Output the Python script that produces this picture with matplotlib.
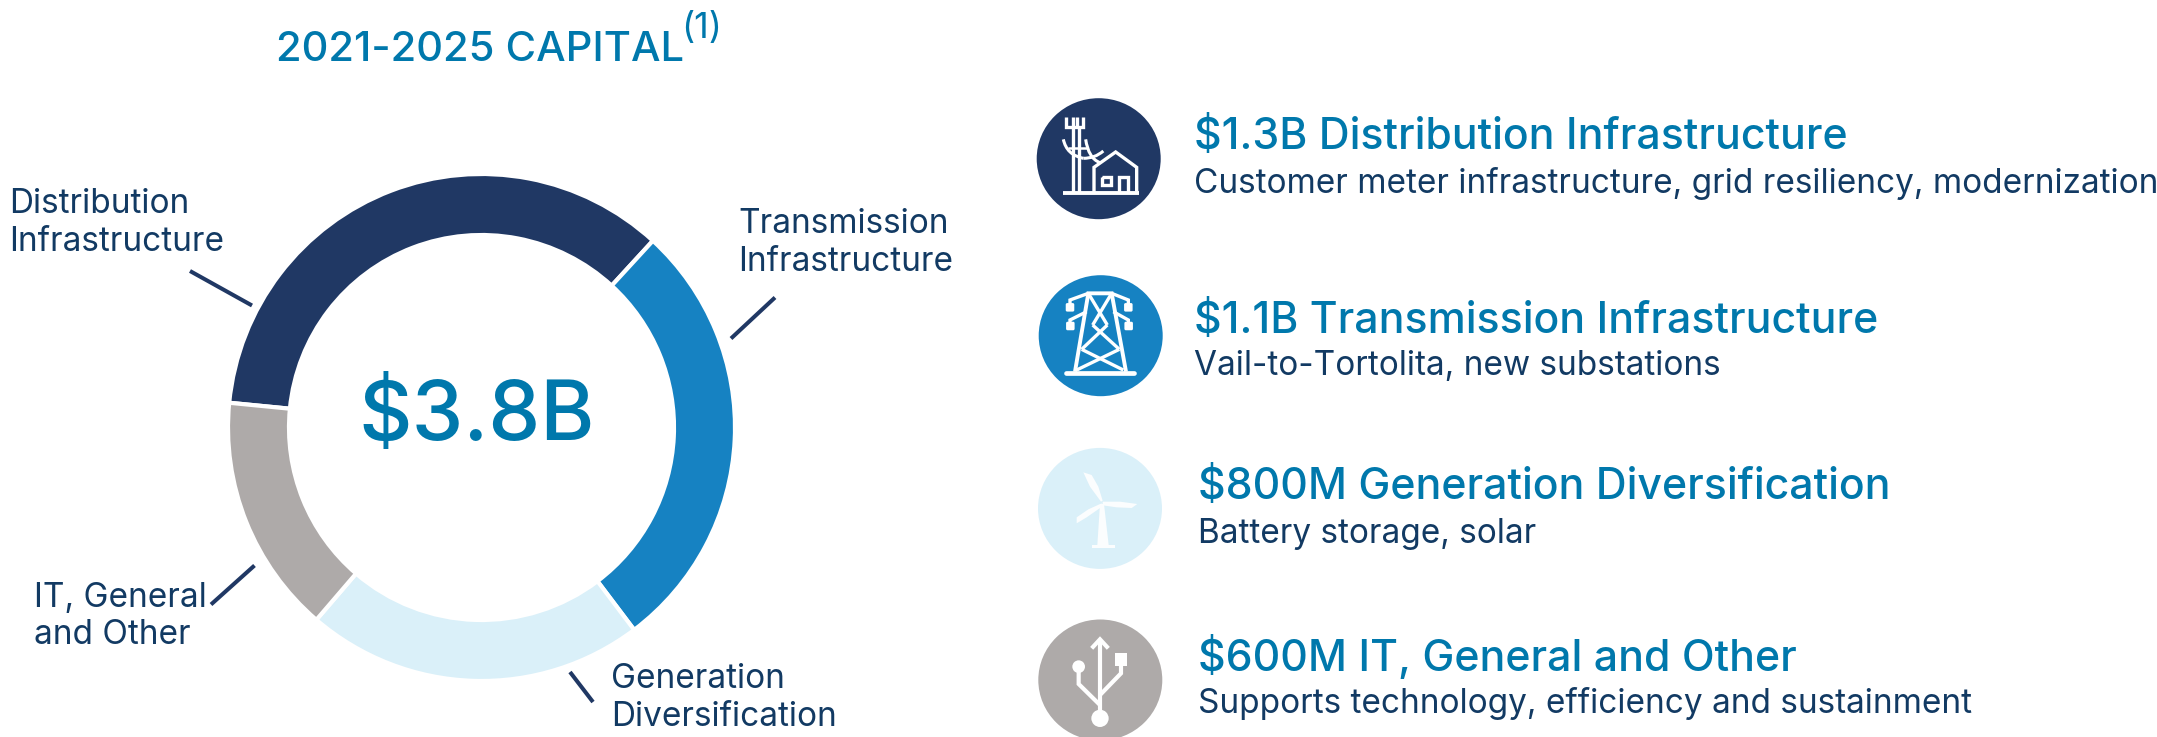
import matplotlib
matplotlib.use("Agg")
import matplotlib.pyplot as plt
from matplotlib.patches import Ellipse, Circle, Polygon, Rectangle, FancyBboxPatch, PathPatch
from matplotlib.path import Path

W, H = 2157, 737
FONT = "Inter"
categories = ["Distribution\nInfrastructure", "Transmission\nInfrastructure",
              "Generation\nDiversification", "IT, General\nand Other"]
values = [1.34, 1.06, 0.82, 0.58]
colors = ["#203864", "#1682C2", "#DAF0F9", "#AEAAA9"]
total_label = "$3.8B"
title = "2021-2025 CAPITAL"
headings = ["$1.3B Distribution Infrastructure", "$1.1B Transmission Infrastructure",
            "$800M Generation Diversification", "$600M IT, General and Other"]
details = ["Customer meter infrastructure, grid resiliency, modernization",
           "Vail-to-Tortolita, new substations", "Battery storage, solar",
           "Supports technology, efficiency and sustainment"]
TEAL = "#0078AC"
DARK = "#123A63"
NAVY = "#203864"

fig = plt.figure(figsize=(W / 100, H / 100), dpi=100)
ax = fig.add_axes([0, 0, 1, 1])

def Y(py):
    return H - py

ax.pie(values, colors=colors, startangle=174.4, counterclock=False, center=(481.5, Y(427.5)),
       radius=253.5, frame=True,
       wedgeprops=dict(width=61, edgecolor="white", linewidth=3))
ax.set_xlim(0, W)
ax.set_ylim(0, H)
ax.set_aspect("equal")
ax.axis("off")

def txt(x, y, s, size, color, ha="left", weight="normal"):
    ax.text(x, Y(y), s, fontsize=size, color=color, ha=ha, va="baseline",
            family=FONT, fontweight=weight)

txt(276, 61, title, 30, TEAL, weight="medium")
txt(681, 38, "(1)", 26, TEAL)
txt(477, 440, total_label, 59.5, TEAL, ha="center", weight="medium")

label_pos = [(9, 213, 250.5), (738.5, 232.5, 270.5), (611, 687.5, 725.5), (34, 607, 644.5)]
for cat, (x, y1, y2) in zip(categories, label_pos):
    a, b = cat.split("\n")
    txt(x, y1, a, 24, DARK)
    txt(x, y2, b, 24, DARK)

leaders = [((190, 271), (252, 305.5)), ((775, 297.5), (731, 338.5)),
           ((570, 672), (593, 702)), ((254.5, 565.5), (211, 604.5))]
for (a, b) in leaders:
    ax.plot([a[0], b[0]], [Y(a[1]), Y(b[1])], color=NAVY, lw=2.9, solid_capstyle="butt")

h_pos = [(1194.5, 149), (1194.5, 333), (1197.5, 499), (1197.5, 671)]
d_pos = [(1194.5, 192.5), (1194.5, 374.5), (1197.5, 542.5), (1197.5, 713)]
for s, (x, y) in zip(headings, h_pos):
    txt(x, y, s, 30.8, TEAL, weight="medium")
for s, (x, y) in zip(details, d_pos):
    txt(x, y, s, 24, DARK)

# icon badges
centers = [(1098.7, 158.7), (1100.7, 335.7), (1100, 508.4), (1100.3, 680)]
for (cx, cy), c in zip(centers, colors):
    ax.add_patch(Ellipse((cx, Y(cy)), 124, 121, color=c, lw=0))

# crops are 3x: convert crop coordinates to figure coordinates
def m1(x, y): return (1020 + x / 3, Y(80 + y / 3))
def m2(x, y): return (1020 + x / 3, Y(430 + y / 3))

def pl(m, pts, lw=2.4, c="white", cap="butt"):
    p = [m(*q) for q in pts]
    ax.plot([q[0] for q in p], [q[1] for q in p], color=c, lw=lw,
            solid_capstyle=cap, solid_joinstyle="miter")

def curve(m, pts, lw=2.2):
    P = [m(*q) for q in pts]
    codes = [Path.MOVETO] + [Path.CURVE3] * (len(P) - 1)
    ax.add_patch(PathPatch(Path(P, codes), fc="none", ec="white", lw=lw))

# distribution
pl(m1, [(130, 338), (358, 338)], 2.8)
pl(m1, [(158, 145), (158, 335)]); pl(m1, [(177, 145), (177, 335)])
pl(m1, [(138, 112), (138, 142), (190, 142), (190, 112)])
pl(m1, [(158, 112), (158, 142)]); pl(m1, [(170, 112), (170, 142)])
curve(m1, [(130, 178), (140, 225), (190, 235)])
curve(m1, [(190, 235), (225, 235), (250, 213)])
curve(m1, [(197, 178), (205, 235), (240, 248)])
pl(m1, [(145, 203), (205, 203)], 1.8)
pl(m1, [(222, 335), (222, 262), (287, 216), (350, 262), (350, 335)])
pl(m1, [(246, 290), (273, 290), (273, 315), (246, 315), (246, 290)])
pl(m1, [(298, 335), (298, 290), (323, 290), (323, 335)])

# transmission
pl(m1, [(138, 880), (342, 880)], 3.4, cap="round")
pl(m1, [(165, 875), (205, 640), (275, 640), (318, 875)], 2.8)
for seg in ([(208, 645), (262, 735)], [(272, 645), (218, 735)],
            [(262, 735), (185, 808)], [(218, 735), (298, 808)],
            [(185, 808), (310, 870)], [(298, 808), (170, 870)]):
    pl(m1, seg, 2.4)
pl(m1, [(205, 640), (150, 660), (150, 680)], 2.4)
pl(m1, [(275, 640), (325, 660), (325, 680)], 2.4)
pl(m1, [(200, 695), (150, 720), (150, 735)], 2.4)
pl(m1, [(280, 695), (325, 720), (325, 735)], 2.4)
for (x, y) in [(150, 682), (325, 682), (151, 738), (326, 738)]:
    ax.add_patch(FancyBboxPatch(m1(x - 11, y + 11), 22 / 3, 22 / 3,
                                boxstyle="round,pad=0.6,rounding_size=1.5", fc="white", ec="none"))

# turbine
W1 = "#FBFDFE"
ax.add_patch(Polygon([m2(*q) for q in [(240, 222), (252, 222), (266, 345), (232, 345)]], fc=W1, ec="none"))
ax.add_patch(Polygon([m2(*q) for q in [(216, 345), (284, 345), (284, 354), (216, 354)]], fc=W1, ec="none"))
for blade in ([(190, 127), (215, 135), (235, 170), (248, 212), (243, 215), (210, 170)],
              [(248, 215), (300, 215), (352, 222), (335, 234), (290, 232), (248, 226)],
              [(245, 220), (205, 238), (170, 262), (170, 280), (200, 262), (246, 230)]):
    ax.add_patch(Polygon([m2(*q) for q in blade], fc=W1, ec="none"))

# usb
pl(m2, [(240, 635), (240, 845)], 3.0)
pl(m2, [(215, 655), (240, 628), (265, 655)], 3.0)
pl(m2, [(176, 710), (176, 762), (240, 825)], 3.0)
pl(m2, [(303, 700), (303, 730), (240, 795)], 3.0)
ax.add_patch(Circle(m2(176, 710), 19 / 3, fc="white", ec="none"))
ax.add_patch(Circle(m2(240, 865), 26 / 3, fc="white", ec="none"))
ax.add_patch(Rectangle(m2(285, 707), 37 / 3, 37 / 3, fc="white", ec="none"))

fig.savefig("out.png", dpi=100, facecolor="white")
